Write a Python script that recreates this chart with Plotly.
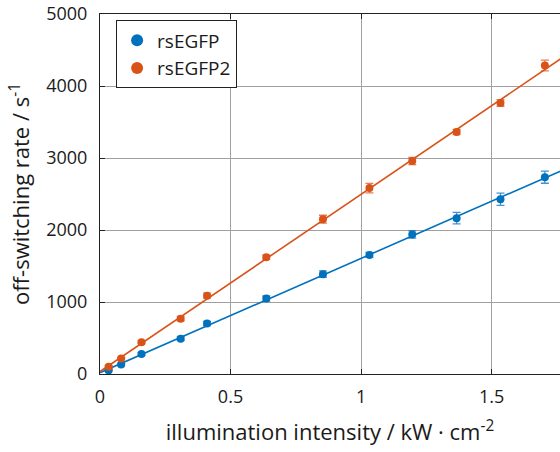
import numpy as np
import plotly.graph_objects as go

# data
intensity = [0.033, 0.081, 0.159, 0.309, 0.410, 0.637, 0.854, 1.032, 1.196, 1.366, 1.534, 1.704]
rs1_rate = [51, 131, 278, 491, 701, 1048, 1386, 1654, 1938, 2164, 2428, 2734]
rs1_err = [15, 15, 20, 25, 30, 35, 45, 35, 50, 80, 85, 85]
rs2_rate = [100, 214, 441, 769, 1088, 1622, 2150, 2582, 2957, 3361, 3764, 4285]
rs2_err = [15, 15, 20, 30, 35, 30, 55, 65, 50, 35, 45, 75]

names = ["rsEGFP", "rsEGFP2"]
colors = ["#0072BD", "#D95319"]
err_colors = ["rgba(0,114,189,0.75)", "rgba(217,83,25,0.75)"]

x_tick_vals = [0, 0.5, 1, 1.5]
y_tick_vals = [0, 1000, 2000, 3000, 4000, 5000]

fig = go.Figure()
xfit = np.array([0.0, 1.8])
series = [(names[0], colors[0], err_colors[0], rs1_rate, rs1_err),
          (names[1], colors[1], err_colors[1], rs2_rate, rs2_err)]
for name, col, ecol, y, e in series:
    slope, icpt = np.polyfit(intensity, y, 1)
    fig.add_trace(go.Scatter(x=xfit, y=slope * xfit + icpt, mode="lines",
                             line=dict(color=col, width=1.6), showlegend=False,
                             legendgroup=name, hoverinfo="skip"))
for name, col, ecol, y, e in series:
    fig.add_trace(go.Scatter(x=intensity, y=y, mode="markers", name=name,
                             legendgroup=name,
                             marker=dict(color=col, size=8),
                             error_y=dict(type="data", array=e, visible=True,
                                          color=ecol, thickness=1.3, width=4)))

font_family = "Open Sans, Noto Sans, sans-serif"
fig.update_layout(
    width=560, height=452,
    margin=dict(l=100, r=0, t=14, b=78),
    paper_bgcolor="white", plot_bgcolor="white",
    font=dict(family=font_family, size=18, color="#1a1a1a"),
    showlegend=True,
    legend=dict(x=0.035, y=0.982, xanchor="left", yanchor="top",
                bordercolor="#222", borderwidth=1, bgcolor="white",
                font=dict(size=19), tracegroupgap=0, itemsizing="constant"),
)
fig.update_xaxes(range=[0, 1.762], tickvals=x_tick_vals, ticks="inside", ticklen=5,
                 tickcolor="#222", showline=True, linecolor="#222", linewidth=1,
                 mirror="ticks", showgrid=True, gridcolor="#a0a0a0", gridwidth=1,
                 zeroline=False, ticklabelstandoff=6,
                 title=dict(text="illumination intensity / kW · cm<sup>-2</sup>", standoff=18))
fig.update_yaxes(range=[0, 5000], tickvals=y_tick_vals, ticks="inside", ticklen=5,
                 tickcolor="#222", showline=True, linecolor="#222", linewidth=1,
                 mirror=False, showgrid=True, gridcolor="#a0a0a0", gridwidth=1,
                 zeroline=False, ticklabelstandoff=8,
                 title=dict(text="off-switching rate / s<sup>-1</sup>", standoff=10))

fig.write_html("out.html")
